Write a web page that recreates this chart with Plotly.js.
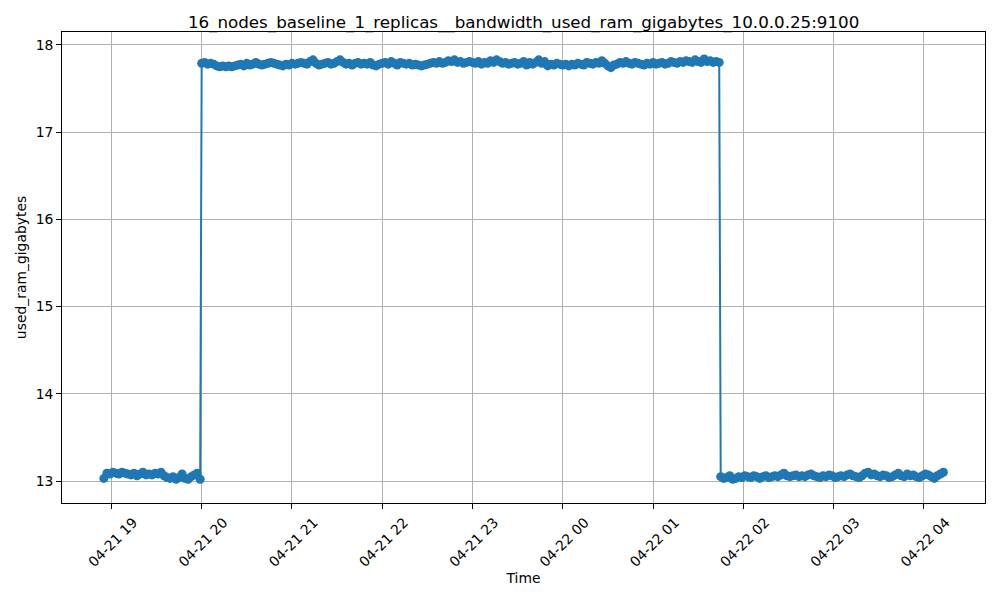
<!DOCTYPE html>
<html>
<head>
<meta charset="utf-8">
<script src="https://cdn.plot.ly/plotly-3.0.1.min.js"></script>
<style>html,body{margin:0;padding:0;background:#fff;}#chart{width:1000px;height:600px;}</style>
</head>
<body>
<div id="chart"></div>
<script>
// Sampling: each segment starts at a given time, one sample every 2 minutes
const segmentStarts = ["2024-04-21 18:55", "2024-04-21 20:00", "2024-04-22 01:45"];
const sampleStepMinutes = 2;

const segment1Values = [13.03,13.09,13.08,13.10,13.09,13.08,13.10,13.09,13.08,13.07,13.09,13.06,13.08,13.10,13.07,13.08,13.07,13.09,13.08,13.10,13.06,13.04,13.03,13.05,13.02,13.04,13.08,13.03,13.02,13.05,13.07,13.09,13.02];

const segment2Values = [
17.79,17.80,17.78,17.79,17.78,17.76,17.75,17.76,17.75,17.76,
17.75,17.76,17.77,17.78,17.76,17.79,17.77,17.78,17.80,17.78,
17.77,17.78,17.79,17.80,17.79,17.78,17.77,17.76,17.78,17.77,
17.79,17.78,17.79,17.80,17.79,17.78,17.81,17.83,17.79,17.77,
17.78,17.79,17.80,17.78,17.79,17.81,17.83,17.80,17.78,17.79,
17.77,17.79,17.80,17.78,17.79,17.78,17.80,17.77,17.76,17.78,
17.79,17.80,17.78,17.81,17.79,17.77,17.80,17.79,17.78,17.79,
17.77,17.78,17.77,17.76,17.77,17.78,17.79,17.80,17.79,17.81,
17.79,17.80,17.82,17.81,17.83,17.80,17.81,17.79,17.80,17.81,
17.80,17.79,17.81,17.78,17.80,17.79,17.82,17.80,17.83,17.81,
17.79,17.80,17.78,17.79,17.80,17.78,17.79,17.81,17.77,17.80,
17.78,17.80,17.83,17.79,17.81,17.76,17.78,17.77,17.79,17.78,
17.77,17.78,17.76,17.78,17.77,17.79,17.78,17.77,17.80,17.79,
17.78,17.80,17.79,17.82,17.79,17.76,17.74,17.77,17.78,17.80,
17.79,17.81,17.79,17.78,17.80,17.79,17.78,17.77,17.79,17.78,
17.80,17.78,17.79,17.80,17.78,17.79,17.81,17.80,17.79,17.81,
17.80,17.82,17.81,17.80,17.83,17.81,17.80,17.84,17.81,17.82,
17.80,17.81,17.80];

const segment3Values = [
13.05,13.03,13.04,13.06,13.02,13.03,13.05,13.04,13.06,13.05,
13.04,13.06,13.05,13.03,13.05,13.06,13.04,13.05,13.06,13.05,
13.07,13.09,13.06,13.05,13.06,13.07,13.05,13.06,13.05,13.07,
13.08,13.06,13.05,13.04,13.06,13.05,13.07,13.06,13.04,13.05,
13.06,13.05,13.07,13.08,13.06,13.05,13.04,13.06,13.09,13.10,
13.07,13.08,13.06,13.05,13.07,13.06,13.04,13.05,13.07,13.09,
13.06,13.05,13.08,13.06,13.07,13.05,13.04,13.06,13.08,13.07,
13.05,13.03,13.06,13.08,13.10];

const xTickVals = ["2024-04-21 19:00","2024-04-21 20:00","2024-04-21 21:00","2024-04-21 22:00","2024-04-21 23:00","2024-04-22 00:00","2024-04-22 01:00","2024-04-22 02:00","2024-04-22 03:00","2024-04-22 04:00"];
const xTickText = ["04-21 19","04-21 20","04-21 21","04-21 22","04-21 23","04-22 00","04-22 01","04-22 02","04-22 03","04-22 04"];
const yTickVals = [13,14,15,16,17,18];

function pad(n){return String(n).padStart(2,'0');}
function fmt(d){return d.getUTCFullYear()+'-'+pad(d.getUTCMonth()+1)+'-'+pad(d.getUTCDate())+' '+pad(d.getUTCHours())+':'+pad(d.getUTCMinutes());}
function timesFor(start, n){
  const base = new Date(start.replace(' ','T')+':00Z');
  const out = [];
  for(let i=0;i<n;i++){out.push(fmt(new Date(base.getTime()+i*sampleStepMinutes*60000)));}
  return out;
}

const segs = [segment1Values, segment2Values, segment3Values];
let xs = [], ys = [];
segs.forEach((vals, k) => { xs = xs.concat(timesFor(segmentStarts[k], vals.length)); ys = ys.concat(vals); });

const font = "DejaVu Sans, sans-serif";
const trace = {
  x: xs, y: ys, type: 'scatter', mode: 'lines+markers',
  line: {color: '#1f77b4', width: 2},
  marker: {color: '#1f77b4', size: 9}
};

const layout = {
  width: 1000, height: 600,
  paper_bgcolor: '#fff', plot_bgcolor: '#fff',
  margin: {l: 62, r: 15, t: 32, b: 97},
  showlegend: false,
  font: {family: font, color: '#000', size: 13.9},
  title: {text: '16_nodes_baseline_1_replicas__bandwidth_used_ram_gigabytes_10.0.0.25:9100', font: {family: font, size: 16.7, color: '#000'}, x: 0.5236, xanchor: 'center', xref: 'container', y: 1 - 22/600, yref: 'container', yanchor: 'middle'},
  xaxis: {
    type: 'date',
    range: ["2024-04-21 18:27:10", "2024-04-22 04:40:40"],
    tickmode: 'array', tickvals: xTickVals, ticktext: xTickText,
    tickangle: -45, ticklabelshift: 22, ticklabelstandoff: 0,
    showgrid: true, gridcolor: '#b0b0b0', gridwidth: 1,
    showline: true, linecolor: '#000', linewidth: 1, mirror: true,
    ticks: 'outside', ticklen: 4.9, tickwidth: 1, tickcolor: '#000',
    zeroline: false,
    tickfont: {family: font, size: 13.9, color: '#000'},
    title: {text: 'Time', font: {family: font, size: 13.9, color: '#000'}, standoff: 4}
  },
  yaxis: {
    range: [12.748, 18.149],
    tickmode: 'array', tickvals: yTickVals,
    showgrid: true, gridcolor: '#b0b0b0', gridwidth: 1,
    showline: true, linecolor: '#000', linewidth: 1, mirror: true,
    ticks: 'outside', ticklen: 4.9, tickwidth: 1, tickcolor: '#000',
    zeroline: false,
    tickfont: {family: font, size: 13.9, color: '#000'},
    title: {text: 'used_ram_gigabytes', font: {family: font, size: 13.9, color: '#000'}, standoff: 5}
  }
};

Plotly.newPlot('chart', [trace], layout, {displayModeBar: false, staticPlot: true});
</script>
</body>
</html>
